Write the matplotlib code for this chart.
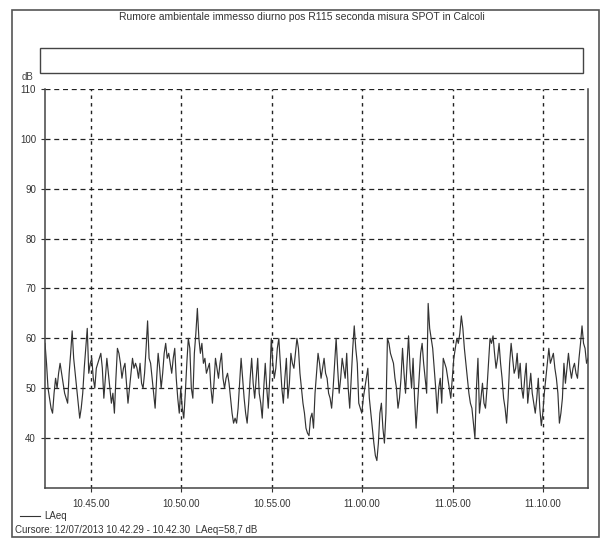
import datetime as dt
import matplotlib
matplotlib.use('Agg')
import matplotlib.pyplot as plt
import matplotlib.dates as mdates
from matplotlib.patches import Rectangle
from matplotlib.lines import Line2D

plt.rcParams['font.family'] = ['Liberation Sans Narrow', 'Liberation Sans', 'DejaVu Sans']

title = 'Rumore ambientale immesso diurno pos R115 seconda misura SPOT in Calcoli'
cursor_text = 'Cursore: 12/07/2013 10.42.29 - 10.42.30  LAeq=58,7 dB'
series_name = 'LAeq'
start = dt.datetime(2013, 7, 12, 10, 42, 29)
step_s = 5

# LAeq every 5 s, one row per minute
laeq = [
    59, 55, 50, 48, 46, 45, 49, 52, 50, 53, 55, 53,
    51, 49, 48, 47, 53, 57, 61.5, 56, 53, 50, 47, 44,
    46, 49, 54, 58, 62, 53, 55, 56, 52, 50, 54, 55,
    56, 57, 54, 48, 52, 56, 53, 50, 47, 49, 45, 52,
    58, 57, 55, 52, 54, 55, 51, 47, 50, 53, 56, 54,
    55, 54, 52, 55, 51, 50, 53, 58, 63.5, 56, 55, 52,
    49, 46, 52, 57, 54, 50, 53, 57, 59, 56, 57, 55,
    53, 56, 58, 52, 48, 45, 50, 46, 44, 49, 55, 60,
    58, 50, 48, 57, 61, 66, 60, 57, 59, 55, 56, 53,
    54, 55, 50, 47, 51, 56, 54, 52, 55, 57, 52, 50,
    52, 53, 51, 48, 45, 43, 44, 43, 46, 51, 56, 52,
    48, 45, 43, 47, 52, 56, 51, 48, 52, 56, 49, 47,
    44, 50, 55, 50, 46, 52, 60, 55, 52, 54, 58, 60,
    55, 50, 47, 52, 56, 48, 51, 57, 55, 54, 57, 60,
    58, 53, 50, 47, 45, 42, 41, 40.5, 44, 45, 42, 49,
    53, 57, 55, 52, 54, 56, 53, 52, 49, 48, 46, 50,
    55, 60, 54, 49, 52, 56, 54, 52, 57, 50, 46, 52,
    58, 62.5, 58, 55, 47, 46, 45, 48, 50, 52, 54, 48,
    45, 42, 39, 36.5, 35.5, 39, 45, 47, 42, 39, 45, 60,
    59, 57, 56, 55, 52, 50, 46, 48, 52, 58, 53, 49,
    55, 60.5, 54, 50, 56, 48, 42, 47, 52, 57, 59, 55,
    52, 49, 67, 62, 60, 58, 54, 50, 45, 50, 52, 47,
    56, 55, 54, 52, 50, 48, 52, 56, 58, 60, 59, 61,
    64.5, 62, 58, 55, 52, 49, 47, 46, 43, 40, 50, 56,
    45, 48, 51, 47, 46, 50, 55, 60, 59, 60.5, 57, 54,
    56, 59, 55, 52, 48, 46, 43, 48, 55, 59, 56, 53,
    54, 57, 52, 55, 50, 48, 52, 55, 47, 50, 53, 49,
    47, 45, 48, 52, 46, 42.5, 45, 49, 52, 55, 58, 55,
    56, 57, 54, 52, 49, 43, 45, 48, 55, 51, 54, 57,
    54, 52, 54, 55, 53, 52, 56, 59, 62.5, 59, 58, 55,
    56,
]
times = [start + dt.timedelta(seconds=step_s * i) for i in range(len(laeq))]

y_ticks = [40, 50, 60, 70, 80, 90, 100, 110]
x_ticks = [dt.datetime(2013, 7, 12, 10, 45), dt.datetime(2013, 7, 12, 10, 50),
           dt.datetime(2013, 7, 12, 10, 55), dt.datetime(2013, 7, 12, 11, 0),
           dt.datetime(2013, 7, 12, 11, 5), dt.datetime(2013, 7, 12, 11, 10)]

fig = plt.figure(figsize=(6.05, 5.40), dpi=100)
fig.patch.set_facecolor('white')

# outer frame and empty header box
fig.patches.append(Rectangle((0.0198, 0.0056), 0.970, 0.976, transform=fig.transFigure,
                             fill=False, edgecolor='#555555', lw=1.2))
fig.patches.append(Rectangle((0.066, 0.865), 0.898, 0.0463, transform=fig.transFigure,
                             fill=False, edgecolor='#444444', lw=1.0))
fig.text(0.499, 0.9685, title, ha='center', va='center', fontsize=7.5, color='#333333')
fig.text(0.046, 0.858, 'dB', ha='center', va='center', fontsize=7, color='#444444')

ax = fig.add_axes([0.0744, 0.0963, 0.8976, 0.739])
ax.plot(times, laeq, color='#333333', lw=0.85)
ax.set_ylim(30, 110)
ax.set_xlim(start, times[-1])
ax.set_yticks(y_ticks)
ax.set_xticks(x_ticks)
ax.xaxis.set_major_formatter(mdates.DateFormatter('%H.%M.%S'))
ax.yaxis.grid(True, color='#222222', linestyle=(0, (4, 3)), lw=0.9)
ax.xaxis.grid(True, color='#222222', linestyle=(0, (2.5, 3)), lw=1.0)
ax.tick_params(labelsize=7, colors='#333333', length=3, width=0.8)
ax.tick_params(axis='x', pad=5)
for s in ['left', 'bottom', 'right']:
    ax.spines[s].set_color('#444444')
    ax.spines[s].set_linewidth(1.1)
ax.spines['top'].set_visible(False)

# legend and cursor line
fig.lines.append(Line2D([0.033, 0.066], [0.044, 0.044], transform=fig.transFigure,
                        color='#333333', lw=0.8))
fig.text(0.073, 0.044, series_name, ha='left', va='center', fontsize=7, color='#333333')
fig.text(0.024, 0.019, cursor_text, ha='left', va='center', fontsize=7, color='#333333')

plt.savefig('out.png', dpi=100)
